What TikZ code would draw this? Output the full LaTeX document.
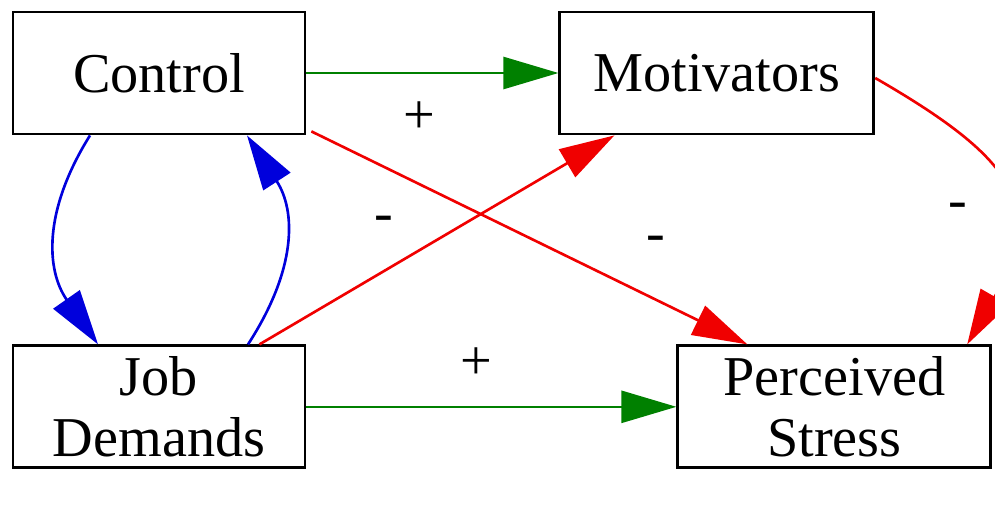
\documentclass[tikz,border=0pt]{standalone}
\usepackage{fontspec}
\setmainfont{Liberation Serif}
\usetikzlibrary{arrows.meta, positioning}
\definecolor{cPos}{RGB}{0,128,0}
\definecolor{cNeg}{RGB}{240,0,0}
\definecolor{cLoop}{RGB}{0,0,220}
\tikzset{
	box/.style   ={rectangle, draw=black, line width=1.6pt, minimum width=5.84cm, minimum height=2.44cm, align=center, inner sep=2pt},
	link/.style  ={-{Triangle[length=1.1cm, width=0.64cm]}, line width=1.5pt},
	posarr/.style={link, draw=cPos},
	negarr/.style={link, draw=cNeg},
	fbarr/.style ={link, draw=cLoop},
	sign/.style  ={inner sep=0pt},
}
\begin{document}
\begin{tikzpicture}[font=\fontsize{32}{35}\selectfont, node distance=4.18cm]
	\useasboundingbox (0,0) rectangle (19.9,-10.16);
	\node[box] (ctrl) at (3.18,-1.46) {Control};
	\node[box, right=5.04cm of ctrl, minimum width=6.28cm] (mot) {Motivators};
	\node[box, below=of ctrl] (jd) {Job\\ Demands};
	\node[box, right=7.4cm of jd, minimum width=6.26cm] (ps) {Perceived\\ Stress};
	% signed effects
	\draw[posarr] (ctrl) -- node[sign, pos=0.45, yshift=-0.9cm] (s1) {+} (mot);
	\draw[posarr] (jd) -- node[sign, pos=0.46, yshift=0.86cm] (s2) {+} (ps);
	\draw[negarr] ([xshift=0.1cm, yshift=0.08cm]ctrl.south east) -- node[sign, pos=0.7, xshift=0.78cm, yshift=0.74cm] (s3) {-} ([xshift=1.42cm]ps.north west);
	\draw[negarr] ([xshift=-0.94cm]jd.north east) -- node[sign, pos=0.35, yshift=0.94cm] (s4) {-} ([xshift=1.12cm]mot.south west);
	\draw[negarr] ([yshift=-0.1cm]mot.east) to[out=-30, in=60, looseness=1.45] node[sign, pos=0.5, xshift=-0.9cm, yshift=-0.44cm] (s5) {-} ([xshift=-0.5cm]ps.north east);
	% feedback between control and demands
	\draw[fbarr] ([xshift=-1.38cm]ctrl.south) to[out=238, in=125, looseness=1.1] ([xshift=-1.22cm]jd.north);
	\draw[fbarr] ([xshift=1.78cm]jd.north) to[out=57, in=-57, looseness=1.1] ([xshift=1.76cm]ctrl.south);
\end{tikzpicture}
\end{document}
